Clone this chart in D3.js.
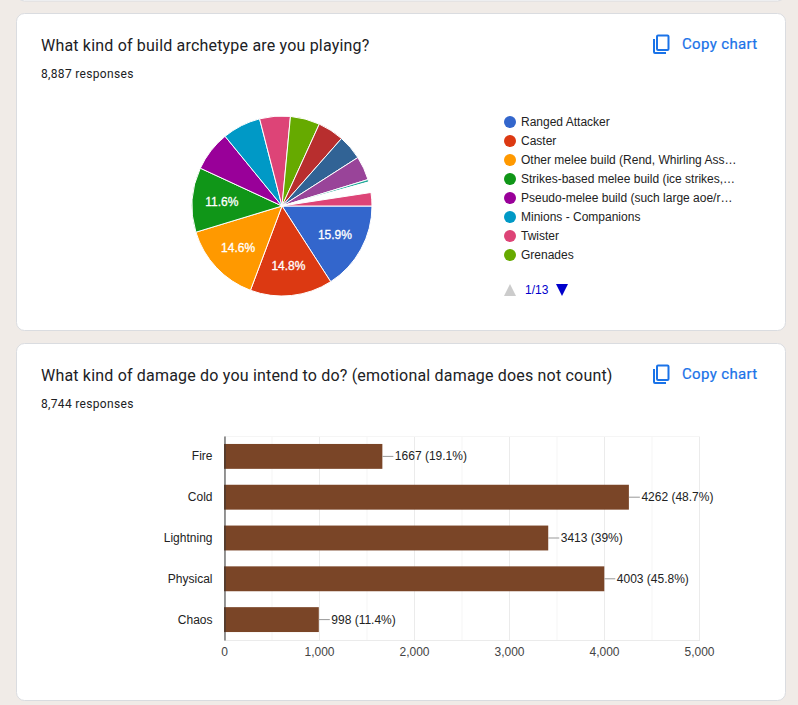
<!DOCTYPE html>
<html>
<head>
<meta charset="utf-8">
<script src="https://cdn.jsdelivr.net/npm/d3@7"></script>
<style>
html, body { margin: 0; padding: 0; background: #f0ebe7; overflow: hidden; }
svg { display: block; }
.title { font: 400 16px Roboto, sans-serif; fill: #202124; letter-spacing: 0.19px; }
.sub { font: 400 12px Roboto, sans-serif; fill: #202124; letter-spacing: 0.33px; }
.copy { font: 400 15px Roboto, sans-serif; fill: #1a73e8; stroke: #1a73e8; stroke-width: 0.2; letter-spacing: 0.35px; }
.chartText { font: 12px "Liberation Sans", Arial, sans-serif; fill: #222; }
</style>
</head>
<body>
<div id="chart"></div>
<script>
// pie data, in percent
const pieValues = [15.9, 14.8, 14.6, 11.6, 7.2, 6.9, 5.5, 5.3, 4.7, 4.45, 4.3, 0.45, 1.9, 2.4];
const pieColors = ["#3366cc", "#dc3912", "#ff9900", "#109618", "#990099", "#0099c6", "#dd4477", "#66aa00", "#b82e2e", "#316395", "#994499", "#22aa99", "#ffffff", "#dd4477"];
const legendLabels = ["Ranged Attacker", "Caster", "Other melee build (Rend, Whirling Ass…", "Strikes-based melee build (ice strikes,…", "Pseudo-melee build (such large aoe/r…", "Minions - Companions", "Twister", "Grenades"];
const pieMinLabel = 10; // only big slices get a label

// bar data
const barCategories = ["Fire", "Cold", "Lightning", "Physical", "Chaos"];
const barValues = [1667, 4262, 3413, 4003, 998];
const barPercents = ["19.1", "48.7", "39", "45.8", "11.4"];

const width = 798;
const height = 705;

const svg = d3.select("#chart").append("svg")
    .attr("width", width)
    .attr("height", height)
    .attr("viewBox", [0, 0, width, height]);

// end of the card above
svg.append("rect")
    .attr("x", 16.5).attr("y", -20).attr("width", 769).attr("height", 21)
    .attr("rx", 8).attr("fill", "#fff").attr("stroke", "#dadce0");

function card(y, h, title, responses) {
    svg.append("rect")
        .attr("x", 16.5).attr("y", y + 0.5).attr("width", 769).attr("height", h)
        .attr("rx", 8).attr("fill", "#fff").attr("stroke", "#dadce0");
    svg.append("text").attr("class", "title").attr("x", 41).attr("y", y + 38).text(title);
    svg.append("text").attr("class", "sub").attr("x", 41).attr("y", y + 65).text(responses);

    // copy icon
    const icon = svg.append("g")
        .attr("transform", `translate(653,${y + 21})`)
        .attr("fill", "none").attr("stroke", "#1a73e8").attr("stroke-width", 2);
    icon.append("rect").attr("x", 4).attr("y", 1.5).attr("width", 11.5).attr("height", 14.5).attr("rx", 1);
    icon.append("path").attr("d", "M1,5V18a1,1 0 0 0 1,1H13");
    svg.append("text").attr("class", "copy").attr("x", 682).attr("y", y + 36).text("Copy chart");
}

card(13, 317, "What kind of build archetype are you playing?", "8,887 responses");
card(343, 357, "What kind of damage do you intend to do? (emotional damage does not count)", "8,744 responses");

// ---- pie ----
const radius = 90;
const pie = d3.pie().sort(null).startAngle(Math.PI / 2).endAngle(Math.PI * 2.5);
const arc = d3.arc().innerRadius(0).outerRadius(radius);
const labelArc = d3.arc().innerRadius(radius * 0.67).outerRadius(radius * 0.67);

const gPie = svg.append("g").attr("transform", "translate(282,206)");

gPie.selectAll("path")
    .data(pie(pieValues))
    .join("path")
    .attr("d", arc)
    .attr("fill", (d, i) => pieColors[i])
    .attr("stroke", "#fff")
    .attr("stroke-width", 1);

gPie.selectAll("text")
    .data(pie(pieValues).filter(d => d.data > pieMinLabel))
    .join("text")
    .attr("transform", d => `translate(${labelArc.centroid(d)})`)
    .attr("dy", "0.36em")
    .attr("text-anchor", "middle")
    .attr("class", "chartText")
    .style("fill", "#fff")
    .style("stroke", "#fff")
    .style("stroke-width", 0.3)
    .text(d => d.data + "%");

// legend
const legendY = d3.scalePoint().domain(d3.range(legendLabels.length)).range([122, 255]);
const legend = svg.append("g");

legend.selectAll("circle")
    .data(legendLabels)
    .join("circle")
    .attr("cx", 510)
    .attr("cy", (d, i) => legendY(i))
    .attr("r", 6)
    .attr("fill", (d, i) => pieColors[i]);

legend.selectAll("text")
    .data(legendLabels)
    .join("text")
    .attr("class", "chartText")
    .attr("x", 521)
    .attr("y", (d, i) => legendY(i))
    .attr("dy", "0.36em")
    .text(d => d);

// pager
svg.append("path").attr("d", "M504,296L510,284L516,296Z").attr("fill", "#cccccc");
svg.append("path").attr("d", "M556,284L568,284L562,296Z").attr("fill", "#0000cc");
svg.append("text").attr("class", "chartText").style("fill", "#0000cc")
    .attr("x", 525).attr("y", 294).text("1/13");

// ---- bars ----
const x = d3.scaleLinear().domain([0, 5000]).range([224, 699]);
const y = d3.scaleBand().domain(barCategories).range([436, 640]).paddingInner(0.39).paddingOuter(0.195);

const gBars = svg.append("g");

// gridlines
gBars.selectAll("line.minor")
    .data(x.ticks(10))
    .join("line")
    .attr("x1", d => x(d) + 0.5).attr("x2", d => x(d) + 0.5)
    .attr("y1", 436).attr("y2", 640)
    .attr("stroke", d => d % 1000 ? "#f5f5f5" : "#ebebeb");

gBars.append("line")
    .attr("x1", 224).attr("x2", 700).attr("y1", 436.5).attr("y2", 436.5).attr("stroke", "#f5f5f5");
gBars.append("line")
    .attr("x1", 224).attr("x2", 700).attr("y1", 640.5).attr("y2", 640.5).attr("stroke", "#ebebeb");

gBars.selectAll("rect")
    .data(barValues)
    .join("rect")
    .attr("x", x(0))
    .attr("y", (d, i) => y(barCategories[i]))
    .attr("width", d => x(d) - x(0))
    .attr("height", y.bandwidth())
    .attr("fill", "#7a4527");

// leader lines and value labels
gBars.selectAll("line.leader")
    .data(barValues)
    .join("line")
    .attr("class", "leader")
    .attr("x1", d => x(d))
    .attr("x2", d => x(d) + 11)
    .attr("y1", (d, i) => y(barCategories[i]) + y.bandwidth() / 2)
    .attr("y2", (d, i) => y(barCategories[i]) + y.bandwidth() / 2)
    .attr("stroke", "#999");

gBars.selectAll("text.value")
    .data(barValues)
    .join("text")
    .attr("class", "chartText value")
    .attr("x", d => x(d) + 12.5)
    .attr("y", (d, i) => y(barCategories[i]) + y.bandwidth() / 2)
    .attr("dy", "0.34em")
    .text((d, i) => `${d} (${barPercents[i]}%)`);

// axes
const yAxis = svg.append("g")
    .attr("transform", "translate(224.5,0)")
    .call(d3.axisLeft(y).tickSize(0).tickPadding(12));
yAxis.select(".domain").attr("stroke", "#333");
yAxis.selectAll("text").attr("class", "chartText").attr("dy", "0.34em");

const xAxis = svg.append("g")
    .attr("transform", "translate(0,640)")
    .call(d3.axisBottom(x).ticks(5).tickSize(0).tickPadding(7).tickFormat(d3.format(",")));
xAxis.select(".domain").remove();
xAxis.selectAll("text").attr("class", "chartText").style("fill", "#444");
</script>
</body>
</html>
